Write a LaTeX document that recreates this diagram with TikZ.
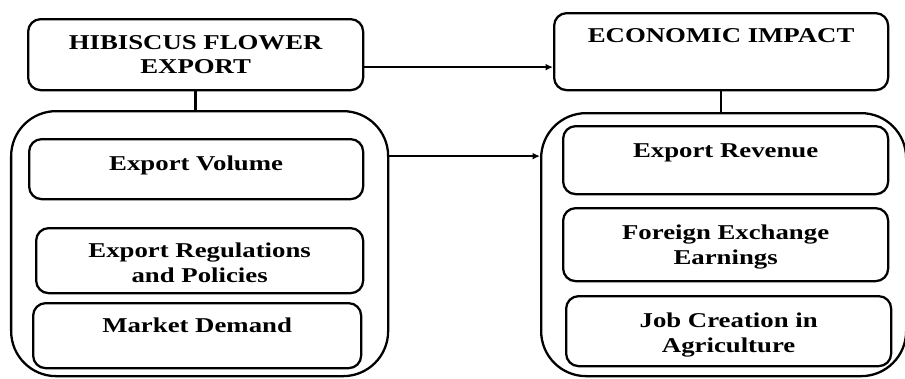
\documentclass[tikz,border=0pt]{standalone}
\usepackage{fontspec}
\setmainfont{Liberation Serif}
\newfontfamily\boxfont[FakeStretch=1.27]{Liberation Serif}
\usetikzlibrary{arrows.meta}

\begin{document}
\begin{tikzpicture}[box/.style={draw, line width=1.3pt, rounded corners=0.25cm, inner sep=0pt, anchor=north west},
  group/.style={draw, line width=1.3pt, rounded corners=0.9cm, inner sep=0pt, anchor=north west},
  txt/.style={font=\boxfont\bfseries\fontsize{12}{14}\selectfont, align=center, inner sep=0pt, anchor=north},
  link/.style={line width=1.5pt},
  arrow/.style={link, -{Latex[length=1.5mm,width=1.4mm]}}]
\useasboundingbox (0,0) rectangle (18.1,-7.56);
% left side
\node[group, minimum width=7.54cm, minimum height=5.30cm] (exportgrp) at (0.20,-2.20) {};
\node[box, minimum width=6.70cm, minimum height=1.42cm] (hibiscus) at (0.54,-0.36) {};
\node[box, minimum width=6.68cm, minimum height=1.20cm] (volume) at (0.56,-2.76) {};
\node[box, minimum width=6.54cm, minimum height=1.30cm] (policy) at (0.70,-4.54) {};
\node[box, minimum width=6.56cm, minimum height=1.30cm] (demand) at (0.64,-6.04) {};
% right side
\node[group, minimum width=7.30cm, minimum height=5.26cm] (impactgrp) at (10.80,-2.24) {};
\node[box, minimum width=6.68cm, minimum height=1.54cm] (impact) at (11.06,-0.24) {};
\node[box, minimum width=6.50cm, minimum height=1.36cm] (revenue) at (11.24,-2.50) {};
\node[box, minimum width=6.50cm, minimum height=1.46cm] (forex) at (11.24,-4.14) {};
\node[box, minimum width=6.50cm, minimum height=1.40cm] (jobs) at (11.30,-5.90) {};
% labels
\node[txt] (hibiscustext) at ([yshift=-0.34cm]hibiscus.north) {HIBISCUS FLOWER\\EXPORT};
\node[txt] (volumetext) at ([yshift=-0.36cm]volume.north) {Export Volume};
\node[txt] (policytext) at ([yshift=-0.32cm]policy.north) {Export Regulations\\and Policies};
\node[txt] (demandtext) at ([yshift=-0.32cm]demand.north) {Market Demand};
\node[txt] (impacttext) at ([yshift=-0.32cm]impact.north) {ECONOMIC IMPACT};
\node[txt] (revenuetext) at ([yshift=-0.36cm]revenue.north) {Export Revenue};
\node[txt] (forextext) at ([yshift=-0.36cm]forex.north) {Foreign Exchange\\Earnings};
\node[txt] (jobstext) at ([yshift=-0.36cm]jobs.north) {Job Creation in\\Agriculture};
% connectors
\draw[link] (hibiscus.south) -- (hibiscus.south |- exportgrp.north);
\draw[link] (impact.south) -- (impact.south |- impactgrp.north);
\draw[arrow] ([yshift=-0.25cm]hibiscus.east) -- ([yshift=-0.25cm]hibiscus.east -| impact.west);
\draw[arrow] ([yshift=1.75cm]exportgrp.east) -- ([yshift=1.75cm]exportgrp.east -| impactgrp.west);
\end{tikzpicture}
\end{document}
